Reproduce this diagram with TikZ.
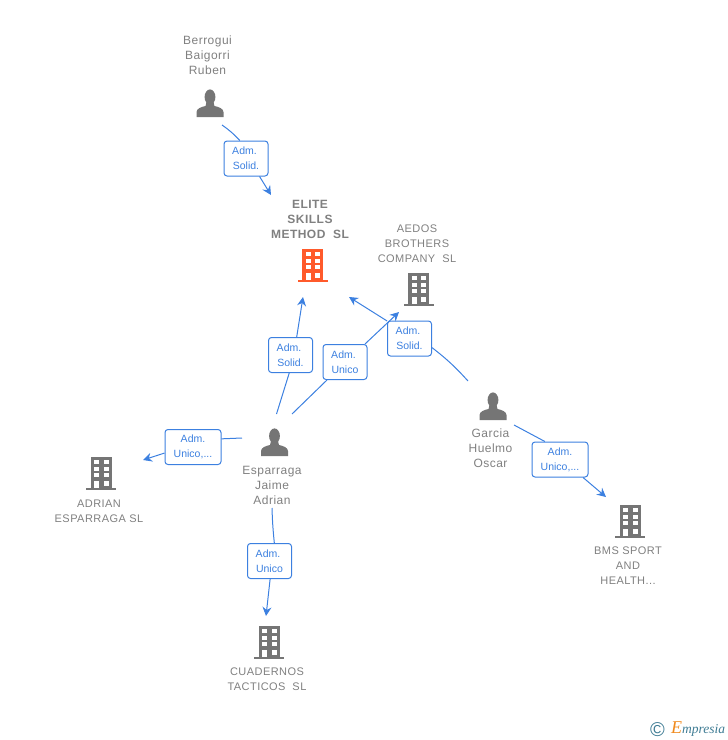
\documentclass[tikz,border=0pt]{standalone}
\usepackage{fontspec}
\usepackage{xcolor}
\usetikzlibrary{arrows.meta}
\setmainfont{Liberation Sans}
\newfontfamily\lblfont[LetterSpace=4]{Liberation Sans}
\newfontfamily\logofont{Liberation Serif}
\definecolor{iconGrey}{HTML}{757575}
\definecolor{textGrey}{HTML}{808080}
\definecolor{linkBlue}{HTML}{3C80E0}
\definecolor{eliteRed}{HTML}{FF5A2B}
\definecolor{logoTeal}{HTML}{3F7C94}
\definecolor{logoOrange}{HTML}{F08A1D}
\tikzset{
  lbl/.style={text=textGrey,align=center,inner sep=0pt,font=\lblfont\fontsize{12}{15}\selectfont},
  lblco/.style={lbl,font=\lblfont\fontsize{11}{15}\selectfont},
  lblbold/.style={lbl,font=\lblfont\bfseries\fontsize{12}{15}\selectfont},
  role/.style={draw=linkBlue,line width=1pt,rounded corners=3pt,fill=white,text=linkBlue,align=center,
    inner sep=0pt,minimum width=44pt,minimum height=35pt,font=\fontsize{10.5}{15}\selectfont},
  rolewide/.style={role,minimum width=56pt},
  wire/.style={draw=linkBlue,line width=1pt},
  arrowwire/.style={wire,-{Stealth[length=9pt,width=9pt,inset=3pt]}},
  pics/person/.style={code={
    \fill[iconGrey] (0,-20) ellipse (5.4 and 7.6);
    \fill[iconGrey] (-13.5,0) -- (-13.5,-5) .. controls (-13.2,-8.5) and (-9,-10) .. (-4.5,-11)
      -- (-3.5,-15) -- (3.5,-15) -- (4.5,-11) .. controls (9,-10) and (13.2,-8.5) .. (13.5,-5) -- (13.5,0) -- cycle;
  }},
  pics/building/.style={code={
    \fill[#1] (-10.5,-33.5) rectangle (10.5,-2);
    \fill[#1] (-15,-2.5) rectangle (15,0);
    \foreach \yy in {-30,-23.3,-16.7} {
      \fill[white] (-7,\yy) rectangle (-2,\yy+4);
      \fill[white] (2.5,\yy) rectangle (7.5,\yy+4);
    }
    \fill[white] (-7,-9.5) rectangle (-2,-2.5);
    \fill[white] (2.5,-9.5) rectangle (7.5,-4.5);
  }}
}
\begin{document}
\begin{tikzpicture}[x=1pt,y=-1pt]
  \useasboundingbox (0,0) rectangle (728,740);

  % people
  \pic (berrogui) at (210,117) {person};
  \pic (esparraga) at (274.5,456) {person};
  \pic (garcia) at (493,420) {person};
  \node[lbl] (berroguitxt) at (207.5,55) {Berrogui\\Baigorri\\Ruben};
  \node[lbl] (esparragatxt) at (272,485) {Esparraga\\Jaime\\Adrian};
  \node[lbl] (garciatxt) at (490.5,448) {Garcia\\Huelmo\\Oscar};

  % companies
  \pic (elite) at (312.5,282) {building=eliteRed};
  \pic (aedos) at (418.5,306) {building=iconGrey};
  \pic (adrian) at (101,490) {building=iconGrey};
  \pic (bms) at (630,538) {building=iconGrey};
  \pic (cuadernos) at (269,659) {building=iconGrey};
  \node[lblbold] (elitetxt) at (310,219) {ELITE\\SKILLS\\METHOD\ \ SL};
  \node[lblco] (aedostxt) at (417,244) {AEDOS\\BROTHERS\\COMPANY\ \ SL};
  \node[lblco] (adriantxt) at (99,511) {ADRIAN\\ESPARRAGA SL};
  \node[lblco] (bmstxt) at (628,566) {BMS SPORT\\AND\\HEALTH...};
  \node[lblco] (cuadernostxt) at (267,679) {CUADERNOS\\TACTICOS\ \ SL};

  % role boxes
  \node[role] (r1) at (246,158.5) {Adm.\hspace*{3pt}\\Solid.};
  \node[role] (r2) at (290.5,355) {Adm.\hspace*{3pt}\\Solid.};
  \node[role] (r3) at (345,362) {Adm.\hspace*{3pt}\\Unico};
  \node[role] (r4) at (409.5,338.5) {Adm.\hspace*{3pt}\\Solid.};
  \node[rolewide] (r5) at (193,447) {Adm.\\Unico,...};
  \node[role] (r6) at (269.5,561) {Adm.\hspace*{3pt}\\Unico};
  \node[rolewide] (r7) at (560,459.5) {Adm.\\Unico,...};

  % free ends of the links
  \coordinate (s1) at (222,125); \coordinate (e1) at (271,195);
  \coordinate (s2) at (276.5,414); \coordinate (e2) at (303,297);
  \coordinate (s3) at (292,414); \coordinate (e3) at (399,312);
  \coordinate (s4) at (468,381); \coordinate (e4) at (349,297);
  \coordinate (s5) at (242,438); \coordinate (e5) at (143,460);
  \coordinate (s6) at (272,508); \coordinate (e6) at (266,616);
  \coordinate (s7) at (514,425); \coordinate (e7) at (606,497);

  \draw[wire] (s1) to[bend left=6] (r1.109);
  \draw[wire] (s4) to[bend right=5] (r4.-22);
  \draw[wire] (s6) to[bend right=2] (r6.75);
  \foreach \from/\to in {s2/r2.-94,s3/r3.-135,s5/r5.16,s7/r7.130}
    \draw[wire] (\from) -- (\to);
  \foreach \from/\to in {r1.-53/e1,r2.71/e2,r3.42/e3,r4.142/e4,r5.-168/e5,r6.-88/e6,r7.-38/e7}
    \draw[arrowwire] (\from) -- (\to);

  % logo
  \node[inner sep=0pt,text=logoTeal,font=\fontsize{20}{20}\selectfont] (copyr) at (657.5,729.5) {\textcopyright};
  \node[inner sep=0pt,anchor=west,text=logoTeal,font=\logofont\itshape\fontsize{13.5}{13.5}\selectfont] (logo) at (671,729.5)
    {{\color{logoOrange}\fontsize{18}{18}\selectfont E}mpresia};
\end{tikzpicture}
\end{document}
